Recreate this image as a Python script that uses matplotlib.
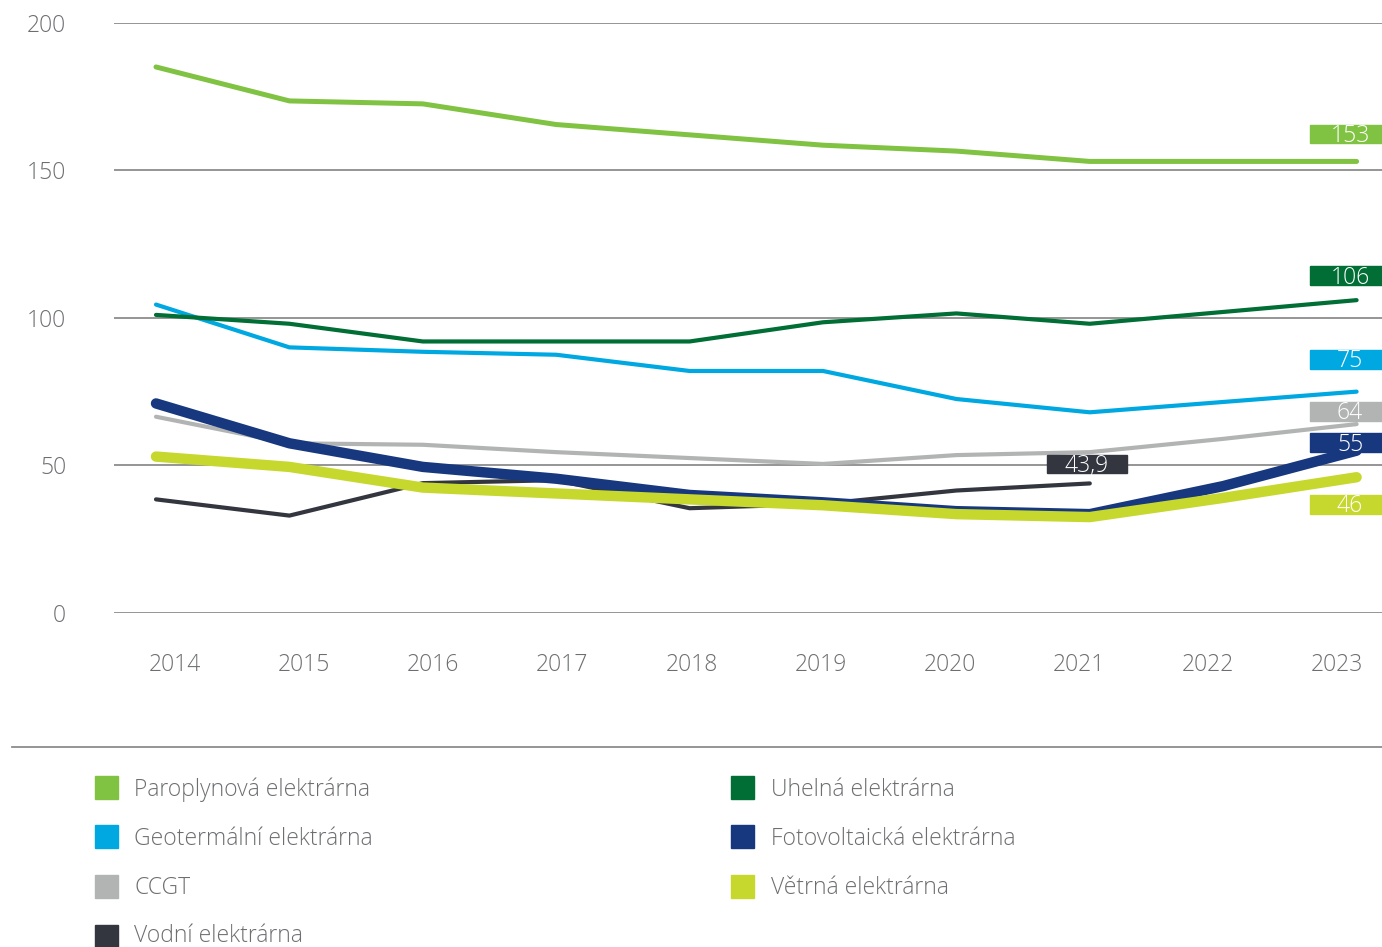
import numpy as np
import matplotlib.pyplot as plt
from matplotlib.patches import Rectangle

plt.rcParams['font.family'] = ['Open Sans', 'DejaVu Sans']

years = ["2014", "2015", "2016", "2017", "2018", "2019", "2020", "2021", "2022", "2023"]

paroplynova = [185, 173.5, 172.5, 165.5, 162, 158.5, 156.5, 153, 153, 153]
uhelna = [101, 98, 92, 92, 92, 98.5, 101.5, 98, 102, 106]
geotermalni = [104.5, 90, 88.5, 87.5, 82, 82, 72.5, 68, 71.5, 75]
ccgt = [66.5, 57.5, 57, 54.5, 52.5, 50.5, 53.5, 54.5, 59, 64]
fotovoltaicka = [71, 57.5, 49.5, 45.5, 40, 37.5, 34.5, 33.5, 43, 55]
vetrna = [53, 49.5, 42.5, 40.5, 38.5, 36.5, 33.5, 32.5, 39, 46]
vodni = [38.5, 33, 44, 45, 35.5, 37, 41.5, 43.9, np.nan, np.nan]

end_labels = ["153", "106", "75", "64", "55", "46"]
vodni_label = "43,9"

names = ["Paroplynová elektrárna", "Geotermální elektrárna", "CCGT", "Vodní elektrárna",
         "Uhelná elektrárna", "Fotovoltaická elektrárna", "Větrná elektrárna"]

C_PARO = "#80c242"
C_UHEL = "#006e35"
C_GEO = "#00a8e1"
C_FOTO = "#17387e"
C_CCGT = "#b2b4b3"
C_VETR = "#c6d82e"
C_VODA = "#33363f"
TXT = "#6d6e71"
GRID = "#8c8c8c"
FS = 16.5

W, H = 1382, 947
fig = plt.figure(figsize=(W / 100, H / 100), dpi=100)
ax = fig.add_axes([114 / W, (H - 613) / H, (W - 114) / W, (613 - 22.7) / H])

# pixel -> data x (2014 at px 156, step 133.4 px)
def px2x(p):
    return (p - 156) / 133.4

x = np.arange(len(years))

series = [
    (ccgt, C_CCGT, 3.0),
    (vodni, C_VODA, 3.0),
    (geotermalni, C_GEO, 3.0),
    (uhelna, C_UHEL, 3.0),
    (paroplynova, C_PARO, 3.6),
    (fotovoltaicka, C_FOTO, 7.5),
    (vetrna, C_VETR, 7.5),
]
for vals, col, lw in series:
    ax.plot(x, vals, color=col, lw=lw, solid_capstyle='round', solid_joinstyle='round',
            clip_on=False, zorder=3)

ax.set_xlim(px2x(114), px2x(1382))
ax.set_ylim(0, 200)
ax.set_yticks([0, 50, 100, 150, 200])
ax.set_xticks([px2x(p) for p in np.linspace(175, 1337, len(years))])
ax.set_xticklabels(years)
ax.yaxis.grid(True, color=GRID, lw=1.3)
ax.set_axisbelow(True)
for s in ax.spines.values():
    s.set_visible(False)
ax.tick_params(axis='y', length=0, pad=34.5, labelsize=FS, labelcolor=TXT)
ax.tick_params(axis='x', length=0, pad=28.5, labelsize=FS, labelcolor=TXT)
for lab in ax.get_xticklabels() + ax.get_yticklabels():
    lab.set_fontweight('light')

# end value boxes
end_cols = [C_PARO, C_UHEL, C_GEO, C_CCGT, C_FOTO, C_VETR]
end_pos = [162.3, 114.3, 86, 68.4, 57.7, 36.9]
box_h = 6.4
for txt, col, yc in zip(end_labels, end_cols, end_pos):
    ax.add_patch(Rectangle((px2x(1310), yc - box_h / 2), px2x(1382) - px2x(1310), box_h,
                           color=col, clip_on=False, zorder=5))
    ax.text(px2x(1350), yc - 0.7, txt, color="white", fontsize=FS, fontweight='light',
            ha='center', va='center', zorder=6)

ax.add_patch(Rectangle((px2x(1047), 50.5 - box_h / 2), px2x(1127) - px2x(1047), box_h,
                       color=C_VODA, clip_on=False, zorder=5))
ax.text(px2x(1087), 50.5 - 0.7, vodni_label, color="white", fontsize=FS, fontweight='light',
        ha='center', va='center', zorder=6)

# separator
fig.add_artist(plt.Line2D([12 / W, 1.0], [(H - 746.7) / H] * 2, color=GRID, lw=1.3))

# legend
leg_cols = [C_PARO, C_GEO, C_CCGT, C_VODA, C_UHEL, C_FOTO, C_VETR]
rows = [787.5, 836.5, 886.3, 936]
shift = [2, 2, 2, 0]
for i, (name, col) in enumerate(zip(names, leg_cols)):
    if i < 4:
        sx, tx, r = 95, 134, i
    else:
        sx, tx, r = 731, 770.7, i - 4
    yc = rows[r]
    fig.add_artist(Rectangle((sx / W, (H - yc - 11.5) / H), 23 / W, 23 / H,
                             color=col, transform=fig.transFigure))
    fig.text(tx / W, (H - yc - shift[r]) / H, name, color=TXT, fontsize=FS, fontweight='light',
             ha='left', va='center')

fig.savefig("out.png", dpi=100)
